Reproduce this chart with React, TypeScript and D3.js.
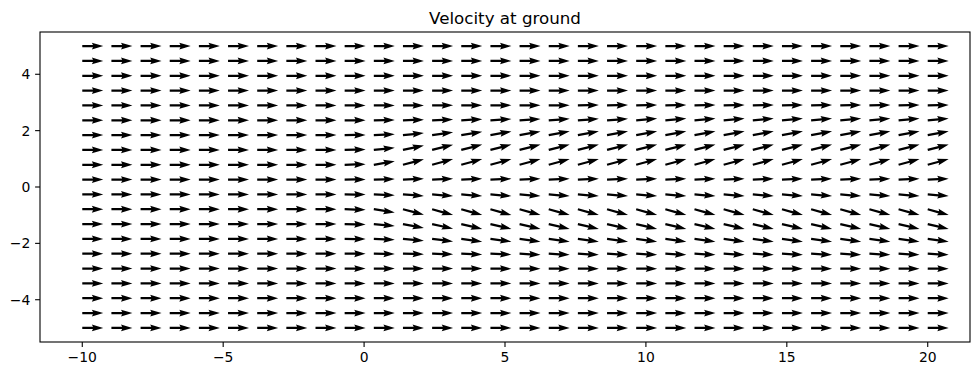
import React from "react";
import * as d3 from "d3";

const TITLE = "Velocity at ground";
const X_GRID = [-10, -8.966, -7.931, -6.897, -5.862, -4.828, -3.793, -2.759, -1.724, -0.690, 0.345, 1.379, 2.414, 3.448, 4.483, 5.517, 6.552, 7.586, 8.621, 9.655, 10.690, 11.724, 12.759, 13.793, 14.828, 15.862, 16.897, 17.931, 18.966, 20];
const Y_GRID = [-5, -4.474, -3.947, -3.421, -2.895, -2.368, -1.842, -1.316, -0.789, -0.263, 0.263, 0.789, 1.316, 1.842, 2.368, 2.895, 3.421, 3.947, 4.474, 5];
const X_TICKS = [-10, -5, 0, 5, 10, 15, 20];
const Y_TICKS = [-4, -2, 0, 2, 4];

// horizontal component (uniform wind)
const U_VALUE = 1;
// vertical component per row (y from -5 to 5), columns x from -10 to 20
const Z9 = [0, 0, 0, 0, 0, 0, 0, 0, 0];
const V_GRID: number[][] = [
  [...Z9, 0, 0, 0, 0, 0, 0, 0, 0, 0, 0, 0, 0, 0, 0, 0, 0, 0, 0, 0, 0, 0],
  [...Z9, 0, 0, 0, 0, 0, 0, 0, 0, 0, 0, 0, 0, 0, 0, 0, 0, 0, 0, 0, 0, 0],
  [...Z9, 0, 0, 0, 0, 0, 0, 0, 0, 0, 0, 0, 0, 0, 0, 0, 0, 0, 0, 0, 0, 0],
  [...Z9, 0, 0, 0, 0, 0, 0, 0, 0, 0, 0, 0, 0, 0, 0, 0, 0, 0, 0, 0, 0, 0],
  [...Z9, 0, 0, 0, 0, 0, -0.01, -0.01, -0.01, -0.01, -0.01, -0.01, -0.01, -0.01, -0.01, -0.01, -0.01, -0.01, -0.01, -0.01, -0.01, -0.01],
  [...Z9, 0, -0.01, -0.02, -0.03, -0.04, -0.04, -0.05, -0.05, -0.05, -0.05, -0.05, -0.05, -0.05, -0.05, -0.05, -0.05, -0.05, -0.05, -0.05, -0.05, -0.05],
  [...Z9, -0.01, -0.04, -0.09, -0.12, -0.13, -0.13, -0.13, -0.13, -0.13, -0.13, -0.13, -0.13, -0.13, -0.13, -0.13, -0.13, -0.13, -0.13, -0.13, -0.13, -0.13],
  [...Z9, -0.02, -0.09, -0.19, -0.22, -0.23, -0.23, -0.23, -0.23, -0.23, -0.23, -0.23, -0.23, -0.23, -0.23, -0.23, -0.23, -0.23, -0.23, -0.23, -0.23, -0.23],
  [...Z9, -0.03, -0.16, -0.26, -0.28, -0.28, -0.28, -0.28, -0.28, -0.28, -0.28, -0.28, -0.28, -0.28, -0.28, -0.28, -0.28, -0.28, -0.28, -0.28, -0.28, -0.28],
  [...Z9, -0.01, -0.04, -0.07, -0.08, -0.08, -0.08, -0.08, -0.08, -0.08, -0.08, -0.08, -0.08, -0.08, -0.08, -0.08, -0.08, -0.08, -0.08, -0.08, -0.08, -0.08],
  [...Z9, 0.01, 0.03, 0.04, 0.04, 0.04, 0.04, 0.04, 0.04, 0.04, 0.04, 0.04, 0.04, 0.04, 0.04, 0.04, 0.04, 0.04, 0.04, 0.04, 0.04, 0.04],
  [...Z9, 0.03, 0.17, 0.26, 0.27, 0.27, 0.27, 0.27, 0.27, 0.27, 0.27, 0.27, 0.27, 0.27, 0.27, 0.27, 0.27, 0.27, 0.27, 0.27, 0.27, 0.27],
  [...Z9, 0.02, 0.10, 0.21, 0.25, 0.26, 0.26, 0.26, 0.26, 0.26, 0.26, 0.26, 0.26, 0.26, 0.26, 0.26, 0.26, 0.26, 0.26, 0.26, 0.26, 0.26],
  [...Z9, 0.01, 0.04, 0.10, 0.14, 0.16, 0.17, 0.17, 0.18, 0.18, 0.18, 0.18, 0.18, 0.18, 0.18, 0.18, 0.18, 0.18, 0.18, 0.18, 0.18, 0.18],
  [...Z9, 0, 0.01, 0.03, 0.04, 0.05, 0.06, 0.06, 0.07, 0.07, 0.07, 0.08, 0.08, 0.08, 0.08, 0.09, 0.09, 0.09, 0.09, 0.09, 0.09, 0.09],
  [...Z9, 0, 0, 0, 0.01, 0.01, 0.01, 0.01, 0.01, 0.02, 0.02, 0.02, 0.02, 0.02, 0.02, 0.02, 0.02, 0.02, 0.02, 0.02, 0.02, 0.02],
  [...Z9, 0, 0, 0, 0, 0, 0, 0, 0, 0, 0, 0, 0, 0, 0, 0, 0, 0, 0, 0, 0, 0],
  [...Z9, 0, 0, 0, 0, 0, 0, 0, 0, 0, 0, 0, 0, 0, 0, 0, 0, 0, 0, 0, 0, 0],
  [...Z9, 0, 0, 0, 0, 0, 0, 0, 0, 0, 0, 0, 0, 0, 0, 0, 0, 0, 0, 0, 0, 0],
  [...Z9, 0, 0, 0, 0, 0, 0, 0, 0, 0, 0, 0, 0, 0, 0, 0, 0, 0, 0, 0, 0, 0],
];

const W = 980;
const H = 376;
const M = { left: 40, right: 970, top: 32, bottom: 342 };
const FONT = "'DejaVu Sans', sans-serif";

export default function App() {
  const x = d3.scaleLinear().domain([-11.5, 21.5]).range([M.left, M.right]);
  const y = d3.scaleLinear().domain([-5.5, 5.5]).range([M.bottom, M.top]);

  // matplotlib-like quiver autoscaling
  const N = X_GRID.length * Y_GRID.length;
  const span = M.right - M.left;
  const sn = Math.min(25, Math.max(8, Math.sqrt(N)));
  const wPx = (0.06 * span) / sn;
  const mags: number[] = [];
  Y_GRID.forEach((_, r) => X_GRID.forEach((__, c) => mags.push(Math.hypot(U_VALUE, V_GRID[r][c]))));
  const amean = d3.mean(mags) as number;
  const snScale = Math.max(10, Math.sqrt(N));
  const pxPerUnit = span / (1.8 * amean * snScale);

  const hl = 5, hw = 3, hal = 4.5;
  const arrows: { d: string; key: string }[] = [];
  Y_GRID.forEach((yv, r) => {
    X_GRID.forEach((xv, c) => {
      const u = U_VALUE;
      const v = V_GRID[r][c];
      const L = (Math.hypot(u, v) * pxPerUnit) / wPx;
      const pts: [number, number][] = [
        [0, 0.5],
        [L - hal, 0.5],
        [L - hl, 0.5 * hw],
        [L, 0],
        [L - hl, -0.5 * hw],
        [L - hal, -0.5],
        [0, -0.5],
      ];
      const ang = Math.atan2(v, u);
      const cs = Math.cos(ang), sn2 = Math.sin(ang);
      const x0 = x(xv), y0 = y(yv);
      const p = d3.path();
      pts.forEach(([px, py], i) => {
        const sx = px * wPx, sy = py * wPx;
        const rx = x0 + sx * cs - sy * sn2;
        const ry = y0 - (sx * sn2 + sy * cs);
        if (i === 0) p.moveTo(rx, ry);
        else p.lineTo(rx, ry);
      });
      p.closePath();
      arrows.push({ d: p.toString(), key: `${r}-${c}` });
    });
  });

  const fmt = (t: number) => (t < 0 ? "\u2212" + Math.abs(t) : String(t));

  return (
    <svg width={W} height={H} style={{ position: "absolute", left: 0, top: 0, background: "#fff" }} fontFamily={FONT}>
      <rect x={0} y={0} width={W} height={H} fill="#fff" />
      <g>
        {arrows.map((a) => (
          <path key={a.key} d={a.d} fill="#000" />
        ))}
      </g>
      <rect x={M.left} y={M.top} width={M.right - M.left} height={M.bottom - M.top} fill="none" stroke="#000" strokeWidth={1.1} />
      {X_TICKS.map((t) => (
        <g key={"x" + t}>
          <line x1={x(t)} x2={x(t)} y1={M.bottom} y2={M.bottom + 4.9} stroke="#000" strokeWidth={1.1} />
          <text x={x(t)} y={M.bottom + 20} textAnchor="middle" fontSize={13.9} fill="#000">
            {fmt(t)}
          </text>
        </g>
      ))}
      {Y_TICKS.map((t) => (
        <g key={"y" + t}>
          <line x1={M.left - 4.9} x2={M.left} y1={y(t)} y2={y(t)} stroke="#000" strokeWidth={1.1} />
          <text x={M.left - 9.7} y={y(t)} dy="0.35em" textAnchor="end" fontSize={13.9} fill="#000">
            {fmt(t)}
          </text>
        </g>
      ))}
      <text x={(M.left + M.right) / 2} y={M.top - 8.3} textAnchor="middle" fontSize={16.7} fill="#000">
        {TITLE}
      </text>
    </svg>
  );
}
